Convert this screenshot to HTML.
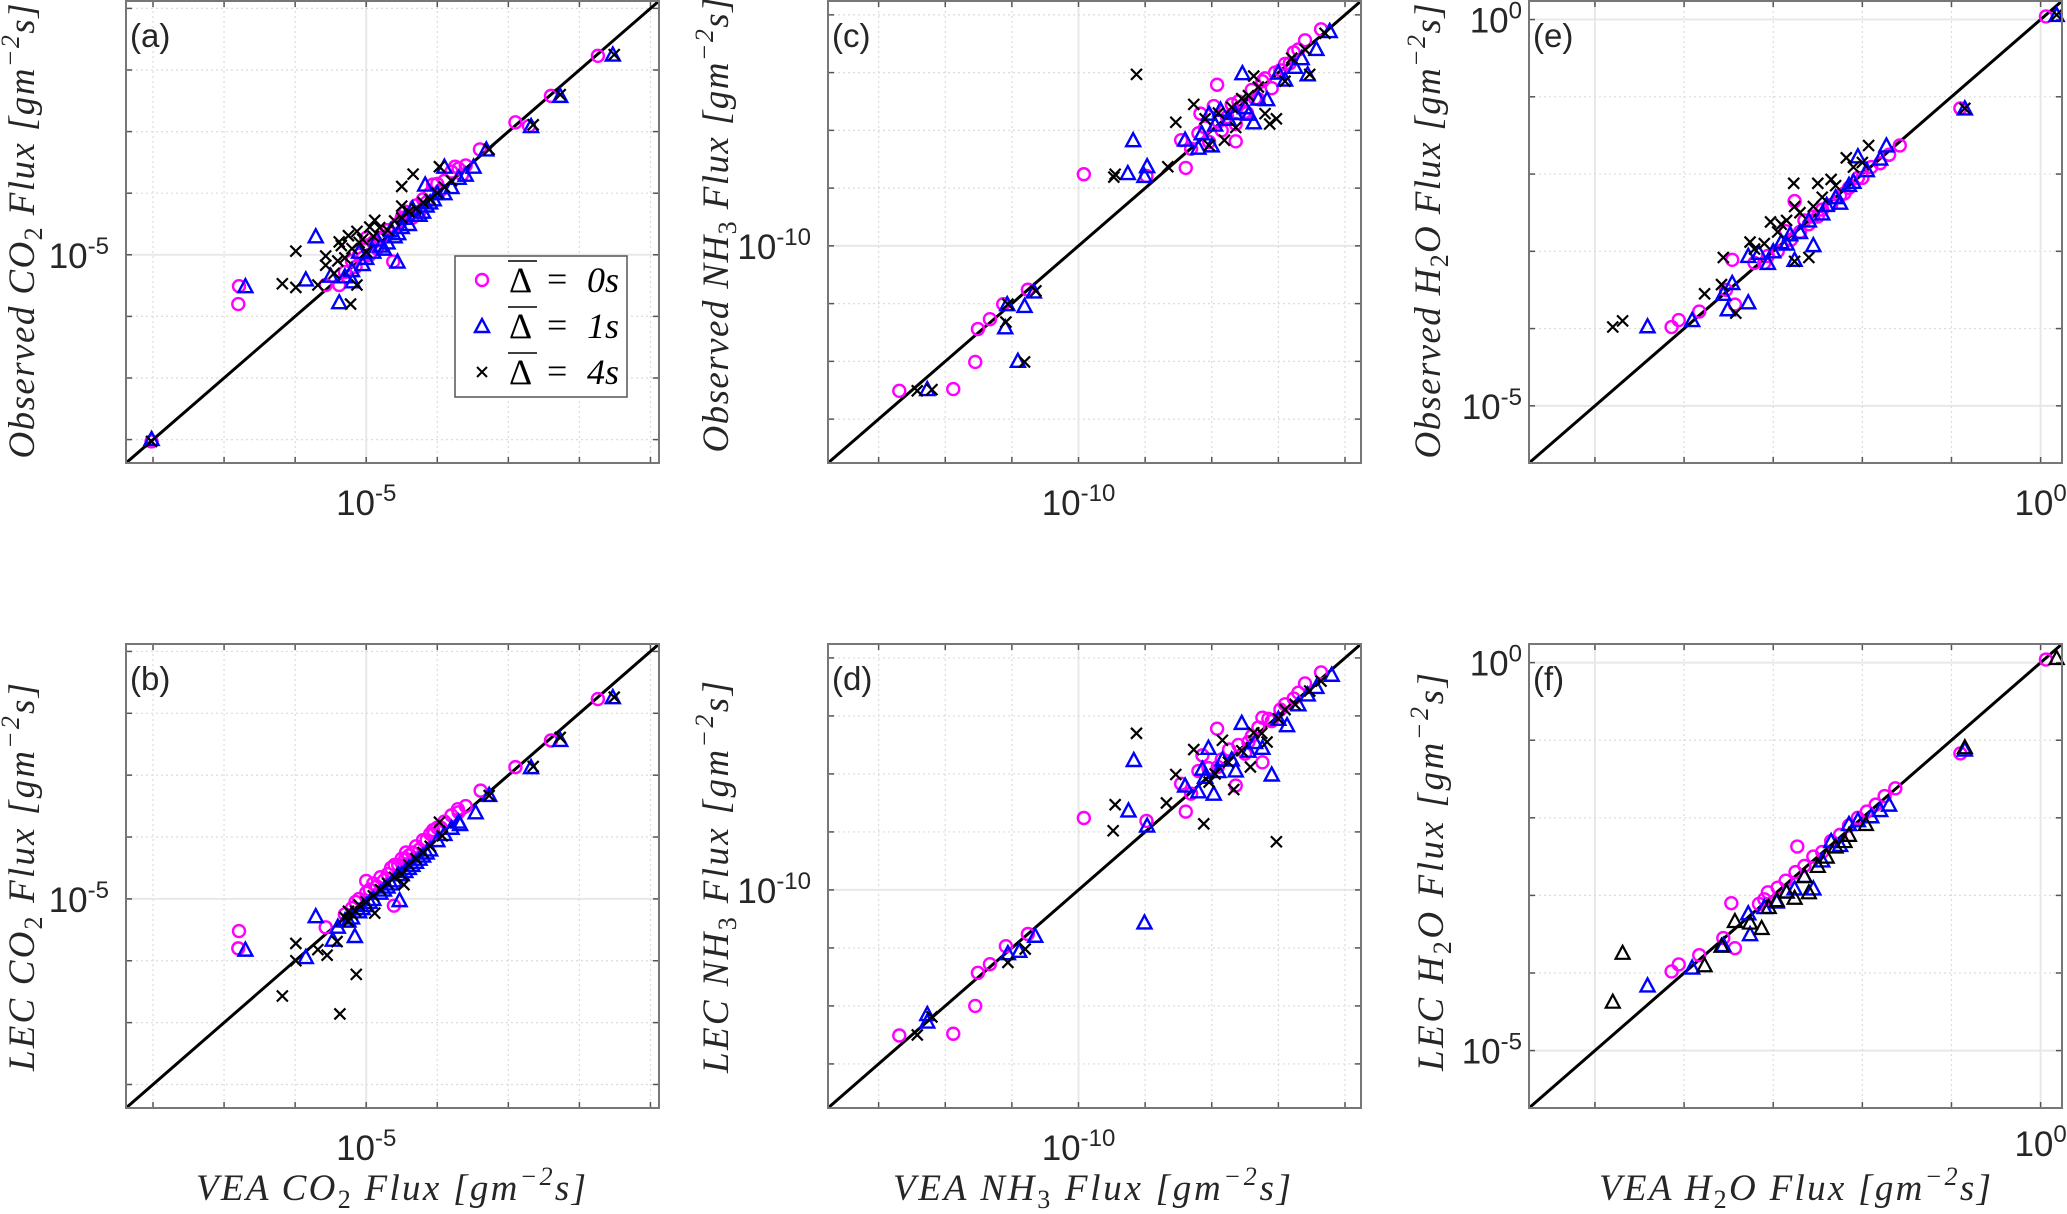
<!DOCTYPE html>
<html><head><meta charset="utf-8"><style>
html,body{margin:0;padding:0;background:#fff}
svg{display:block}
.ttl{font-family:"Liberation Serif",serif}
.tk{font-family:"Liberation Sans",sans-serif;fill:#262626}
</style></head><body>
<svg id="fig" width="2067" height="1214" viewBox="0 0 2067 1214" xmlns="http://www.w3.org/2000/svg"></svg>
<script>
// ---- data (log10 flux values) ----
const aMagX=[-8.02,-6.79,-6.80,-5.57,-5.38,-5.00,-4.62,-4.50,-4.06,-3.75,-3.40,-2.90,-2.71,-2.40,-1.74,-5.30,-5.2,-5.1,-5.0,-4.9,-4.8,-4.7,-4.6,-4.5,-4.4,-4.3,-4.2,-4.1,-4.0,-3.9,-3.8,-4.55,-4.45,-4.75,-5.05,-5.15,-4.95,-4.85,-4.65,-4.35,-4.25,-4.15,-3.95,-3.7,-3.6,-3.65];
const aMagY=[-8.03,-5.51,-5.80,-5.49,-5.49,-4.73,-5.11,-4.44,-3.86,-3.57,-3.29,-2.85,-2.91,-2.42,-1.77,-5.28,-5.1,-5.0,-4.85,-4.8,-4.75,-4.6,-4.55,-4.4,-4.35,-4.2,-4.1,-4.0,-3.85,-3.8,-3.65,-4.5,-4.3,-4.7,-5.05,-5.2,-5.0,-4.9,-4.65,-4.4,-4.3,-4.15,-3.95,-3.6,-3.55,-3.7];
const aBluX=[-8.02,-6.70,-5.85,-5.71,-5.38,-5.50,-5.19,-4.56,-4.17,-3.90,-3.49,-3.31,-2.68,-2.27,-1.53,-5.2,-5.0,-4.9,-4.8,-4.7,-4.6,-4.5,-4.4,-4.3,-4.2,-4.1,-4.0,-3.9,-4.65,-4.35,-5.1,-5.3,-5.05,-4.85,-4.75,-4.55,-4.45,-4.25,-4.15,-4.05,-3.8,-3.7,-3.6];
const aBluY=[-7.99,-5.51,-5.40,-4.70,-5.77,-5.34,-5.43,-5.11,-3.86,-3.57,-3.57,-3.29,-2.91,-2.42,-1.75,-5.25,-5.05,-4.95,-4.85,-4.8,-4.7,-4.55,-4.5,-4.35,-4.3,-4.15,-4.0,-4.0,-4.6,-4.25,-4.95,-5.35,-5.15,-4.75,-4.9,-4.65,-4.4,-4.35,-4.2,-4.1,-3.9,-3.75,-3.7];
const aBlkX=[-8.02,-6.18,-5.99,-5.99,-5.68,-5.57,-5.57,-5.38,-5.22,-5.25,-5.13,-5.13,-4.34,-4.50,-4.88,-4.81,-4.50,-3.97,-3.27,-2.65,-2.27,-1.51,-4.7,-4.5,-4.3,-4.1,-3.9,-4.9,-5.45,-5.35,-5.3,-5.2,-5.05,-5.0,-4.95,-4.6,-4.4,-4.2,-4.0,-3.8,-5.4,-5.1];
const aBlkY=[-8.03,-5.47,-4.94,-5.53,-5.49,-5.02,-5.17,-4.79,-5.80,-4.69,-4.62,-5.49,-3.69,-3.89,-4.44,-4.56,-4.21,-3.57,-3.29,-2.89,-2.40,-1.75,-4.6,-4.4,-4.25,-4.1,-3.9,-4.7,-5.3,-4.85,-5.05,-4.9,-4.75,-4.95,-4.55,-4.45,-4.3,-4.15,-4.0,-3.8,-5.1,-4.8];
const bMagX=[-6.79,-6.80,-5.57,-5.00,-4.61,-4.44,-4.06,-3.71,-3.39,-2.90,-2.40,-1.74,-5.2,-5.1,-5.0,-4.9,-4.8,-4.7,-4.6,-4.5,-4.4,-4.3,-4.2,-4.1,-4.0,-3.9,-3.8,-4.65,-4.45,-5.3,-5.15,-4.95,-4.85,-4.75,-4.55,-4.35,-4.25,-4.15,-4.05,-3.95,-3.7,-3.6];
const bMagY=[-5.52,-5.80,-5.46,-4.71,-5.11,-4.25,-3.89,-3.55,-3.25,-2.87,-2.44,-1.77,-5.15,-5.0,-4.9,-4.75,-4.65,-4.6,-4.45,-4.35,-4.3,-4.15,-4.05,-3.95,-3.85,-3.75,-3.65,-4.5,-4.35,-5.25,-5.05,-4.85,-4.8,-4.7,-4.45,-4.25,-4.2,-4.05,-3.95,-3.85,-3.6,-3.5];
const bBluX=[-6.70,-5.85,-5.71,-5.47,-5.16,-4.53,-3.68,-3.46,-3.27,-2.68,-2.27,-1.53,-5.3,-5.2,-5.1,-5.0,-4.9,-4.8,-4.7,-4.6,-4.5,-4.4,-4.3,-4.2,-4.1,-4.0,-3.9,-4.55,-5.4,-5.25,-5.05,-4.95,-4.75,-4.65,-4.45,-4.35,-4.25,-4.15,-3.8,-3.7];
const bBluY=[-5.82,-5.94,-5.28,-5.66,-5.60,-5.02,-3.79,-3.60,-3.32,-2.87,-2.43,-1.74,-5.35,-5.3,-5.2,-5.1,-5.0,-4.9,-4.8,-4.7,-4.6,-4.5,-4.4,-4.3,-4.2,-4.05,-3.95,-4.6,-5.45,-5.35,-5.15,-5.05,-4.85,-4.75,-4.55,-4.45,-4.35,-4.25,-3.85,-3.75];
const bBlkX=[-6.18,-5.99,-5.99,-5.68,-5.55,-5.41,-5.37,-5.14,-5.25,-4.88,-4.47,-3.93,-3.97,-3.27,-2.65,-2.27,-1.51,-5.2,-5.1,-5.0,-4.9,-4.7,-4.5,-4.3,-4.1,-4.6,-5.3,-5.25,-5.15,-4.8,-4.4,-4.2];
const bBlkY=[-6.57,-5.72,-6.00,-5.82,-5.91,-5.69,-6.86,-6.22,-5.36,-5.23,-4.77,-3.98,-3.76,-3.33,-2.86,-2.39,-1.74,-5.25,-5.1,-5.05,-4.95,-4.75,-4.6,-4.35,-4.15,-4.65,-5.3,-5.2,-5.2,-4.85,-4.45,-4.25];
const cMagX=[-12.69,-11.88,-11.55,-11.51,-11.33,-11.13,-10.76,-9.92,-8.98,-8.46,-8.39,-8.31,-7.92,-7.64,-8.04,-8.17,-7.77,-7.50,-7.24,-7.30,-6.97,-6.77,-6.60,-6.36,-7.47,-7.10,-7.97,-6.83,-7.64,-8.1,-7.9,-7.85,-7.7,-7.6,-7.4,-7.35,-7.2,-7.05,-6.9,-6.7,-8.2,-7.55];
const cMagY=[-12.51,-12.48,-12.01,-11.44,-11.27,-11.01,-10.76,-8.76,-8.79,-8.17,-8.65,-8.32,-7.21,-8.19,-8.20,-7.71,-7.77,-7.68,-7.15,-7.46,-6.96,-6.65,-6.44,-6.25,-7.70,-7.27,-7.58,-6.84,-7.89,-7.95,-7.85,-8.0,-7.55,-7.5,-7.3,-7.45,-7.1,-7.0,-6.85,-6.6,-8.05,-7.6];
const cBluX=[-12.27,-10.91,-11.10,-11.07,-10.81,-10.67,-9.18,-9.26,-8.97,-9.01,-8.40,-7.54,-8.04,-7.87,-7.37,-6.90,-6.56,-6.23,-6.43,-7.17,-7.44,-8.0,-8.15,-7.95,-7.75,-7.65,-7.3,-7.0,-6.75,-6.65,-8.2,-7.5];
const cBluY=[-12.48,-11.99,-11.41,-11.01,-11.04,-10.79,-8.17,-8.74,-8.62,-8.79,-8.16,-7.01,-7.71,-7.64,-7.86,-7.12,-7.03,-6.28,-6.59,-7.46,-7.71,-8.26,-8.05,-7.9,-7.8,-7.7,-7.45,-7.0,-6.9,-6.75,-8.3,-7.6];
const cBlkX=[-12.42,-12.20,-11.09,-11.06,-10.81,-10.64,-9.47,-9.45,-9.13,-8.66,-8.54,-8.27,-8.04,-7.81,-7.37,-7.20,-7.03,-7.13,-6.53,-6.90,-6.30,-7.64,-7.9,-7.7,-7.55,-7.45,-7.3,-6.8,-6.6,-8.1];
const cBlkY=[-12.51,-12.49,-11.32,-11.01,-12.01,-10.78,-8.81,-8.76,-7.03,-8.63,-7.86,-7.55,-8.26,-8.17,-7.06,-7.71,-7.80,-7.89,-7.03,-7.15,-6.32,-7.95,-7.7,-7.6,-7.45,-7.4,-7.25,-6.75,-6.6,-7.8];
const dMagX=[-12.69,-11.88,-11.55,-11.51,-11.33,-11.09,-10.76,-9.92,-8.98,-8.39,-8.46,-8.31,-7.92,-7.64,-7.24,-8.14,-7.50,-7.24,-6.77,-6.60,-6.36,-6.97,-7.10,-7.91,-7.74,-8.05,-7.85,-7.6,-7.4,-7.3,-7.15,-6.9,-6.7,-8.2,-7.45];
const dMagY=[-12.51,-12.48,-12.00,-11.43,-11.28,-10.97,-10.76,-8.76,-8.81,-8.65,-8.17,-8.34,-7.22,-8.20,-7.80,-7.68,-7.65,-7.03,-6.70,-6.44,-6.25,-6.89,-7.09,-7.88,-7.58,-7.9,-7.75,-7.5,-7.35,-7.2,-7.05,-6.8,-6.6,-7.95,-7.45];
const dBluX=[-12.27,-12.27,-11.06,-10.89,-10.65,-9.17,-9.25,-8.97,-9.01,-8.40,-8.05,-8.14,-7.97,-7.55,-7.10,-7.24,-7.64,-6.87,-6.56,-6.43,-6.20,-7.84,-8.1,-7.9,-7.7,-7.45,-7.35,-7.0,-6.7,-8.2];
const dBluY=[-12.14,-12.27,-11.09,-11.05,-10.79,-7.76,-8.63,-8.89,-10.56,-8.20,-7.55,-7.91,-8.34,-7.12,-8.01,-7.55,-7.94,-7.16,-6.63,-6.50,-6.29,-7.75,-8.05,-7.95,-7.75,-7.6,-7.45,-7.05,-6.8,-8.3];
const dBlkX=[-12.42,-12.20,-11.06,-10.80,-9.48,-9.45,-9.13,-8.68,-8.54,-8.27,-8.12,-7.03,-7.84,-7.67,-7.42,-7.17,-6.90,-6.53,-6.36,-8.04,-7.37,-7.95,-7.75,-7.55,-7.25,-7.0,-6.75];
const dBlkY=[-12.50,-12.19,-11.25,-11.02,-8.98,-8.53,-7.30,-8.50,-8.01,-7.58,-8.86,-9.17,-7.42,-8.27,-7.88,-7.45,-6.89,-6.57,-6.40,-8.14,-7.29,-8.0,-7.8,-7.6,-7.3,-7.05,-6.8];
const eMagX=[-4.14,-4.06,-3.83,-3.53,-3.43,-3.46,-2.76,-2.86,-2.65,-2.45,-2.25,-2.05,-1.80,-1.58,-0.90,0.06,-3.06,-2.55,-2.15,-3.21,-1.90,-3.1,-2.95,-2.8,-2.7,-2.6,-2.5,-2.35,-2.2,-2.0,-1.7];
const eMagY=[-3.98,-3.89,-3.78,-3.50,-3.69,-3.11,-2.35,-2.74,-2.60,-2.46,-2.28,-2.05,-1.86,-1.63,-1.15,0.04,-3.06,-2.55,-2.18,-3.15,-1.91,-3.15,-3.0,-2.85,-2.75,-2.65,-2.55,-2.4,-2.25,-2.05,-1.75];
const eBluX=[-4.41,-3.91,-3.56,-3.51,-3.28,-3.46,-3.28,-3.06,-2.76,-2.55,-2.25,-2.05,-1.73,-0.85,0.18,-2.91,-2.45,-2.15,-2.81,-3.16,-3.0,-2.85,-2.7,-2.6,-2.4,-2.3,-2.1,-1.95,-1.8];
const eBluY=[-3.97,-3.89,-3.55,-3.75,-3.66,-3.41,-3.06,-3.15,-3.11,-2.92,-2.37,-1.77,-1.63,-1.15,0.06,-2.88,-2.51,-2.14,-2.78,-3.02,-3.0,-2.9,-2.75,-2.6,-2.4,-2.3,-2.1,-1.95,-1.8];
const eBlkX=[-4.80,-4.69,-3.77,-3.58,-3.56,-3.42,-3.26,-3.03,-2.77,-2.76,-2.50,-2.35,-2.18,-1.93,-2.60,-2.76,-0.85,0.18,-3.21,-2.91,-2.55,-2.10,-3.1,-2.95,-2.85,-2.7,-2.45,-2.3,-2.0];
const eBlkY=[-3.98,-3.90,-3.55,-3.43,-3.08,-3.80,-2.88,-2.62,-2.12,-2.42,-2.12,-2.07,-1.79,-1.63,-3.08,-3.13,-1.15,0.06,-2.97,-2.65,-2.42,-1.91,-2.9,-2.75,-2.6,-2.5,-2.3,-2.15,-1.85];
const fMagX=[-4.14,-4.06,-3.83,-3.43,-3.47,-2.73,-1.63,-0.90,0.06,-3.16,-3.06,-2.86,-2.65,-2.45,-2.25,-2.05,-1.85,-3.56,-3.1,-2.95,-2.75,-2.55,-2.35,-2.15,-1.95,-1.75];
const fMagY=[-3.98,-3.89,-3.77,-3.68,-3.10,-2.37,-1.62,-1.17,0.04,-3.11,-2.96,-2.81,-2.62,-2.44,-2.22,-2.00,-1.83,-3.55,-3.05,-2.9,-2.7,-2.5,-2.3,-2.1,-1.92,-1.72];
const fBluX=[-4.41,-3.91,-3.56,-3.28,-3.26,-2.55,-2.35,-1.90,-1.70,-0.85,-2.96,-2.76,-2.15,-2.05,-3.1,-2.85,-2.65,-2.45,-2.25,-1.8];
const fBluY=[-4.16,-3.93,-3.64,-3.23,-3.50,-2.91,-2.30,-1.98,-1.83,-1.12,-3.08,-2.91,-2.08,-2.03,-3.15,-2.95,-2.75,-2.55,-2.35,-1.9];
const fBlkX=[-4.80,-4.69,-3.77,-3.58,-3.43,-3.13,-2.76,-2.60,-2.50,-2.15,-2.30,-0.85,0.18,-3.26,-2.96,-1.96,-3.05,-2.85,-2.65,-2.4,-2.2];
const fBlkY=[-4.37,-3.74,-3.90,-3.65,-3.33,-3.42,-3.03,-2.96,-2.62,-2.22,-2.37,-1.09,0.06,-3.35,-3.06,-2.08,-3.15,-2.95,-2.75,-2.5,-2.3];
const ranges={co2:[-8.38,-0.88],nh3:[-13.76,-5.76],h2o:[-5.74,0.24]};

const NS="http://www.w3.org/2000/svg";
const svg=document.getElementById('fig');
function mk(tag,attrs,parent){const e=document.createElementNS(NS,tag);for(const k in attrs)e.setAttribute(k,attrs[k]);(parent||svg).appendChild(e);return e;}

const panels=[
 {id:'a',x:126,y:1,w:533,h:462,r:'co2',mx:aMagX,my:aMagY,bx:aBluX,by:aBluY,kx:aBlkX,ky:aBlkY,xt:[-5],yt:[-5],blkTri:false,
  yl:['Observed CO','2',' Flux'],ylx:22,ylc:231,yll:455,xl:null},
 {id:'b',x:126,y:644,w:533,h:464,r:'co2',mx:bMagX,my:bMagY,bx:bBluX,by:bBluY,kx:bBlkX,ky:bBlkY,xt:[-5],yt:[-5],blkTri:false,
  yl:['LEC CO','2',' Flux'],ylx:22,ylc:877,yll:388,xl:['VEA CO','2',' Flux'],xlc:391,xll:390},
 {id:'c',x:828,y:1,w:533,h:462,r:'nh3',mx:cMagX,my:cMagY,bx:cBluX,by:cBluY,kx:cBlkX,ky:cBlkY,xt:[-10],yt:[-10],blkTri:false,
  yl:['Observed NH','3',' Flux'],ylx:716,ylc:225,yll:455,xl:null},
 {id:'d',x:828,y:644,w:533,h:464,r:'nh3',mx:dMagX,my:dMagY,bx:dBluX,by:dBluY,kx:dBlkX,ky:dBlkY,xt:[-10],yt:[-10],blkTri:false,
  yl:['LEC NH','3',' Flux'],ylx:716,ylc:877,yll:392,xl:['VEA NH','3',' Flux'],xlc:1092,xll:398},
 {id:'e',x:1529,y:1,w:533,h:462,r:'h2o',mx:eMagX,my:eMagY,bx:eBluX,by:eBluY,kx:eBlkX,ky:eBlkY,xt:[0],yt:[-5,0],blkTri:false,
  yl:['Observed H','2','O Flux'],ylx:1428,ylc:231,yll:455,xl:null},
 {id:'f',x:1529,y:644,w:533,h:464,r:'h2o',mx:fMagX,my:fMagY,bx:fBluX,by:fBluY,kx:fBlkX,ky:fBlkY,xt:[0],yt:[-5,0],blkTri:true,
  yl:['LEC H','2','O Flux'],ylx:1431,ylc:872,yll:398,xl:['VEA H','2','O Flux'],xlc:1795,xll:392}
];

function tickLabel(g,x,y,exp,anchor){
  const t=mk('text',{x:x,y:y,'text-anchor':anchor,'font-size':35,class:'tk'},g);
  
  
  t.appendChild(document.createTextNode('10'));
  const s=mk('tspan',{dy:-14,'font-size':24},t);s.textContent=(exp<0?'-':'')+Math.abs(exp);
}
function axisTitle(g,parts,len){
  const t=mk('text',{class:'ttl','font-family':'Liberation Serif, serif','font-size':37,'font-style':'italic',fill:'#262626',textLength:len,lengthAdjust:'spacing','text-anchor':'middle'},g);
  const a=mk('tspan',{},t);a.textContent=parts[0];
  const b=mk('tspan',{'font-style':'normal','font-size':26,dy:8},t);b.textContent=parts[1];
  const c=mk('tspan',{dy:-8},t);c.textContent=parts[2]+' [gm';
  const d=mk('tspan',{'font-size':26,dy:-15},t);d.textContent='\u22122';
  const e=mk('tspan',{dy:15},t);e.textContent='s]';
  return t;
}

panels.forEach(p=>{
  const g=mk('g',{});
  
  
  const [lo,hi]=ranges[p.r];
  const sx=v=>p.x+(v-lo)/(hi-lo)*p.w;
  const sy=v=>p.y+p.h-(v-lo)/(hi-lo)*p.h;
  for(let k=Math.ceil(lo);k<=Math.floor(hi);k++){
    const majX=p.xt.includes(k)||p.yt.includes(k);
    const gx=mk('line',{x1:sx(k),x2:sx(k),y1:p.y,y2:p.y+p.h,stroke:majX?'#e8e8e8':'#dcdcdc','stroke-width':majX?2:1.2,'stroke-dasharray':majX?'none':'2 3'},g);
    
    
    const gy=mk('line',{x1:p.x,x2:p.x+p.w,y1:sy(k),y2:sy(k),stroke:majX?'#e8e8e8':'#dcdcdc','stroke-width':majX?2:1.2,'stroke-dasharray':majX?'none':'2 3'},g);
    
    
    [[sx(k),p.y+p.h,sx(k),p.y+p.h-6],[sx(k),p.y,sx(k),p.y+6],[p.x,sy(k),p.x+6,sy(k)],[p.x+p.w,sy(k),p.x+p.w-6,sy(k)]].forEach(c=>{
      const tk=mk('line',{x1:c[0],y1:c[1],x2:c[2],y2:c[3],stroke:'#555','stroke-width':1.5},g);
      
      
    });
  }
  const dl=mk('line',{x1:sx(lo),y1:sy(lo),x2:sx(hi),y2:sy(hi),stroke:'#000','stroke-width':3},g);
  
  
  const mg=mk('g',{},g);
  
  
  p.mx.forEach((v,i)=>{
    const c=mk('circle',{cx:sx(v),cy:sy(p.my[i]),r:6,fill:'none',stroke:'#ff00ff','stroke-width':2.4},mg);
    
    
  });
  const bg=mk('g',{},g);
  
  
  p.bx.forEach((v,i)=>{
    const x=sx(v),y=sy(p.by[i]);
    const t=mk('polygon',{points:`${x-7},${y+6} ${x+7},${y+6} ${x},${y-7}`,fill:'none',stroke:'#0000ff','stroke-width':2.4},bg);
    
    
  });
  const kg=mk('g',{},g);
  
  
  p.kx.forEach((v,i)=>{
    const x=sx(v),y=sy(p.ky[i]);
    let m;
    if(p.blkTri){m=mk('polygon',{points:`${x-7},${y+6} ${x+7},${y+6} ${x},${y-7}`,fill:'none',stroke:'#000','stroke-width':2.2},kg);}
    else{m=mk('path',{d:`M${x-5.5},${y-5.5}L${x+5.5},${y+5.5}M${x-5.5},${y+5.5}L${x+5.5},${y-5.5}`,stroke:'#000','stroke-width':2.2},kg);}
    
    
  });
  const bx=mk('rect',{x:p.x,y:p.y,width:p.w,height:p.h,fill:'none',stroke:'#777','stroke-width':2},g);
  
  
  p.yt.forEach(k=>{
    const right=(p.r==='h2o')?p.x-7:p.x-17;
    tickLabel(g,right,sy(k)+13,k,'end');
  });
  const xtY=p.y+p.h+(p.id==='f'?48:52);
  p.xt.forEach(k=>{tickLabel(g,sx(k),xtY,k,'middle');});
  const pl=mk('text',{x:p.x+4,y:p.y+46,'font-size':33,class:'tk',fill:'#000'},g);
  
  
  pl.textContent='('+p.id+')';
  const yg=mk('g',{transform:`translate(${p.ylx+12},${p.ylc}) rotate(-90)`},g);
  const yt=axisTitle(yg,p.yl,p.yll);
  
  
  if(p.xl){
    const xg=mk('g',{transform:`translate(${p.xlc},${1200})`},g);
    const xt=axisTitle(xg,p.xl,p.xll);
    
    
  }
});

const lg=mk('g',{});


const lb=mk('rect',{x:455,y:256,width:172,height:141,fill:'#fff',stroke:'#555','stroke-width':1.5},lg);


const labels=['0s','1s','4s'];
[280,326,372].forEach((y,i)=>{
  const e=mk('g',{},lg);
  
  
  if(i===0) mk('circle',{cx:482,cy:y,r:6,fill:'none',stroke:'#ff00ff','stroke-width':2.4},e);
  if(i===1) mk('polygon',{points:`475,${y+6} 489,${y+6} 482,${y-7}`,fill:'none',stroke:'#0000ff','stroke-width':2.4},e);
  if(i===2) mk('path',{d:`M477,${y-5}L487,${y+5}M477,${y+5}L487,${y-5}`,stroke:'#000','stroke-width':2},e);
  mk('line',{x1:508,x2:537,y1:y-19,y2:y-19,stroke:'#000','stroke-width':1.6},e);
  const d=mk('text',{x:509,y:y+12,'font-size':36,fill:'#000','font-family':'Liberation Serif, serif'},e);d.textContent='\u0394';
  const q=mk('text',{x:547,y:y+11,'font-size':36,fill:'#000','font-family':'Liberation Serif, serif'},e);q.textContent='=';
  const v=mk('text',{x:587,y:y+12,'font-size':36,'font-style':'italic',fill:'#000','font-family':'Liberation Serif, serif'},e);v.textContent=labels[i];
});
</script>
</body></html>
